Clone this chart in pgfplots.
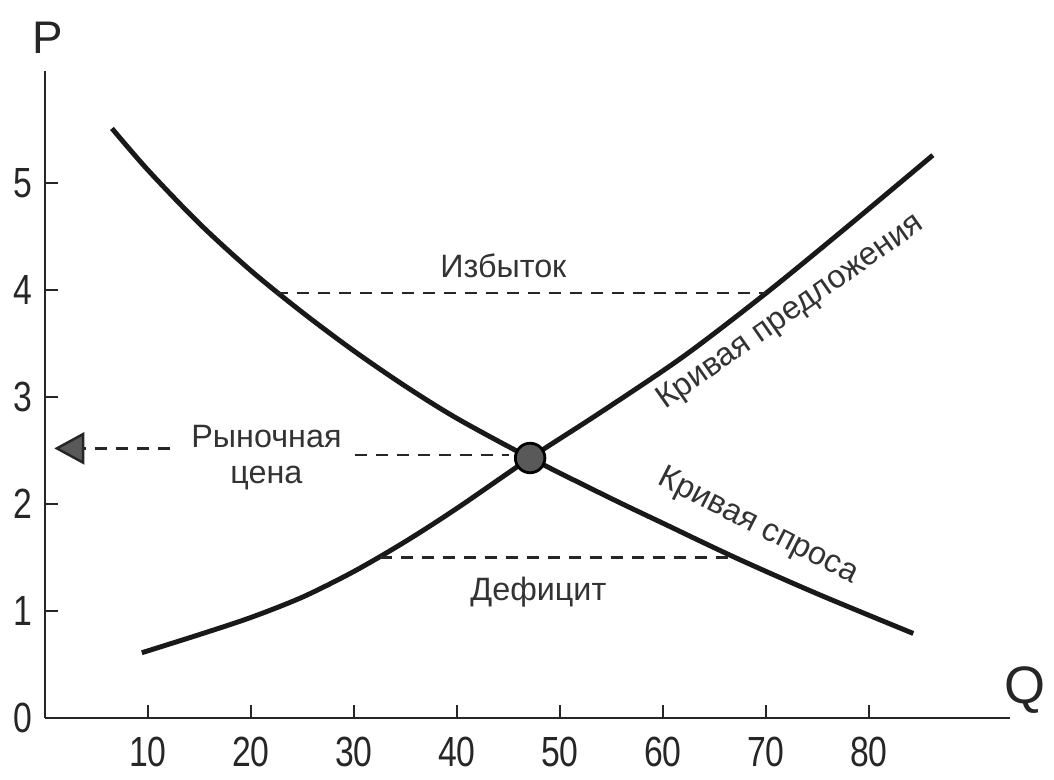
\documentclass[border=0pt]{standalone}
\usepackage{pgfplots}
\pgfplotsset{compat=1.18}
\usepackage{fontspec}
\setmainfont{Liberation Sans}
\usetikzlibrary{arrows.meta}
\begin{document}
\begin{tikzpicture}
\path[use as bounding box] (-0.45,-0.61) rectangle (10.09,7.18);
\begin{axis}[
  x=0.103cm, y=1.07cm,
  xmin=0, xmax=93.7, ymin=0, ymax=6.05,
  axis lines=left,
  axis line style={-, line width=0.8pt, black!85},
  xtick={10,20,30,40,50,60,70,80},
  ytick={0,1,2,3,4,5},
  xticklabels={\scalebox{0.8}[1]{10},\scalebox{0.8}[1]{20},\scalebox{0.8}[1]{30},\scalebox{0.8}[1]{40},\scalebox{0.8}[1]{50},\scalebox{0.8}[1]{60},\scalebox{0.8}[1]{70},\scalebox{0.8}[1]{80}},
  yticklabels={\scalebox{0.8}[1]{0},\scalebox{0.8}[1]{1},\scalebox{0.8}[1]{2},\scalebox{0.8}[1]{3},\scalebox{0.8}[1]{4},\scalebox{0.8}[1]{5}},
  tick align=inside,
  major tick length=0.13cm,
  tick style={line width=0.7pt, black!85},
  ticklabel style={font=\fontsize{12}{12}\selectfont, text=black!85},
  xticklabel style={yshift=-2pt},
  /pgf/number format/assume math mode=true,
  clip=false,
]
% demand curve
\addplot[line width=1.4pt, black!90, smooth] coordinates {
 (6.5,5.51) (10,5.12) (15,4.62) (20,4.18) (25,3.79) (30,3.43) (35,3.10)
 (40,2.80) (47.1,2.43) (55,2.05) (60,1.82) (67,1.50) (75,1.16) (84.3,0.79)};
% supply curve
\addplot[line width=1.4pt, black!90, smooth] coordinates {
 (9.4,0.61) (15,0.78) (20,0.94) (25,1.13) (30,1.37) (35,1.65) (40,1.96)
 (47.1,2.43) (54,2.86) (62,3.38) (70,3.97) (78,4.60) (86.2,5.26)};
% dashed lines
\addplot[line width=0.7pt, black!85, dash pattern=on 0.12cm off 0.09cm] coordinates {(22.4,3.97) (70.0,3.97)};
\addplot[line width=0.7pt, black!85, dash pattern=on 0.12cm off 0.09cm] coordinates {(32.5,1.50) (66.8,1.50)};
\addplot[line width=0.7pt, black!85, dash pattern=on 0.12cm off 0.09cm] coordinates {(30.1,2.46) (45.0,2.46)};
\addplot[line width=0.7pt, black!85, dash pattern=on 0.12cm off 0.09cm,
  -{Triangle[length=0.3cm, width=0.32cm, fill=black!65]}] coordinates {(12.1,2.52) (0.9,2.52)};
% equilibrium point
\addplot[only marks, mark=*, mark size=4.2pt, mark options={fill=black!65, draw=black, line width=0.8pt}] coordinates {(47.1,2.43)};
% labels
\node[font=\fontsize{9.2}{10}\selectfont, text=black!80] at (axis cs:44.5,4.23) {Избыток};
\node[font=\fontsize{9.2}{10}\selectfont, text=black!80] at (axis cs:21.5,2.63) {Рыночная};
\node[font=\fontsize{9.2}{10}\selectfont, text=black!80] at (axis cs:21.5,2.24) {цена};
\node[font=\fontsize{9.2}{10}\selectfont, text=black!80] at (axis cs:47.9,1.18) {Дефицит};
\node[font=\fontsize{9.2}{10}\selectfont, text=black!80, rotate=35] at (axis cs:72.4,3.79) {Кривая предложения};
\node[font=\fontsize{9.2}{10}\selectfont, text=black!80, rotate=-27] at (axis cs:69.2,1.79) {Кривая спроса};
\node[font=\fontsize{13}{13}\selectfont, text=black!85] at (axis cs:0.3,6.36) {P};
\node[font=\fontsize{15}{15}\selectfont, text=black!85] at (axis cs:95.1,0.26) {Q};
\end{axis}
\end{tikzpicture}
\end{document}
